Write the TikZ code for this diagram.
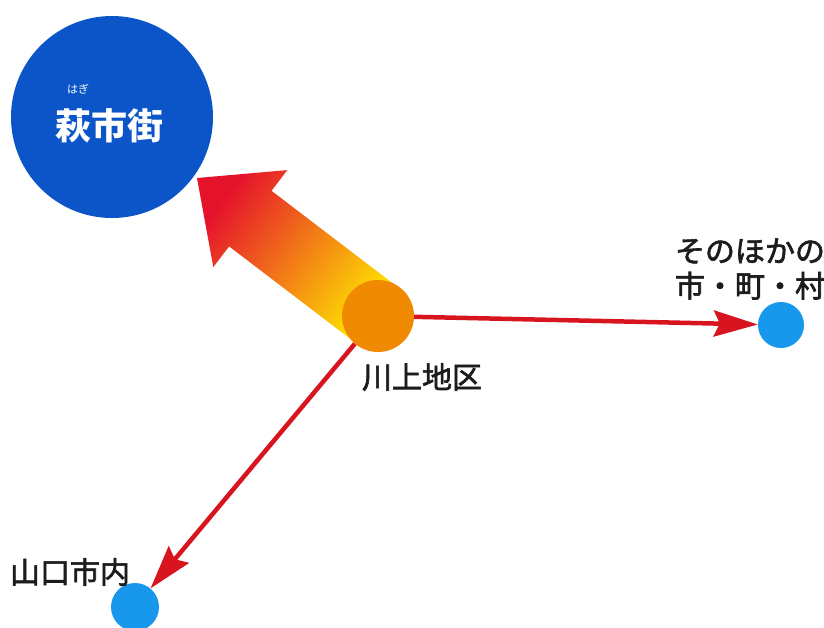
\documentclass[tikz,border=0pt]{standalone}
\usepackage{fontspec}
\newfontfamily\jp{Noto Sans CJK JP}
\newfontfamily\jpm[FakeBold=2]{Noto Sans CJK JP}
\usetikzlibrary{arrows.meta}
\definecolor{hagiblue}{HTML}{0B55C8}
\definecolor{dotblue}{HTML}{1898EC}
\definecolor{kawaorange}{HTML}{F08A00}
\definecolor{linered}{HTML}{D8141E}
\definecolor{arrred}{HTML}{E5122C}
\definecolor{arrorange}{HTML}{F28A26}
\definecolor{arryellow}{HTML}{FFE800}
\definecolor{labelgray}{HTML}{1C1C1C}
\tikzset{
  dotnode/.style={circle, fill=#1, inner sep=0pt},
  label/.style={text=labelgray, font=\jpm\fontsize{30}{35}\selectfont, inner sep=0pt},
  redarrow/.style={draw=linered, line width=4.5pt, -{Stealth[length=44pt, width=26pt, inset=6pt]}},
}
\begin{document}
\begin{tikzpicture}[x=1pt, y=-1pt]
\useasboundingbox (0,0) rectangle (824,627);
\fill[white] (0,0) rectangle (824,627);
% big blue circle
\node[dotnode=hagiblue, minimum size=202pt] (hagi) at (112,117) {};
\node[text=white, font=\jp\bfseries\fontsize{36}{36}\selectfont, inner sep=0pt] (hagit) at (109,126) {萩市街};
\node[text=white, font=\jp\fontsize{11}{11}\selectfont, inner sep=0pt] (ruby) at (78,89) {はぎ};
% gradient arrow
\shade[left color=arrred, middle color=arrorange, right color=arryellow, shading angle=52.7]
  (197,178) -- (287.3,170.1) -- (271.5,190.8) -- (399.2,288.2)
  -- (356.8,343.8) -- (229.1,246.4) -- (213.3,267.1) -- cycle;
% nodes
\node[dotnode=kawaorange, minimum size=72pt] (kawa) at (378,316) {};
\node[dotnode=dotblue, minimum size=46pt] (other) at (781,325) {};
\node[dotnode=dotblue, minimum size=48pt] (yama) at (135,607) {};
% connectors
\draw[redarrow] (kawa) -- (other);
\draw[redarrow] (kawa) -- (yama);
% labels
\node[label] (kawat) at (422,377) {川上地区};
\node[label, align=center] (othert) at (750,269) {そのほかの\\市・町・村};
\node[label] (yamat) at (70,572) {山口市内};
\end{tikzpicture}
\end{document}
